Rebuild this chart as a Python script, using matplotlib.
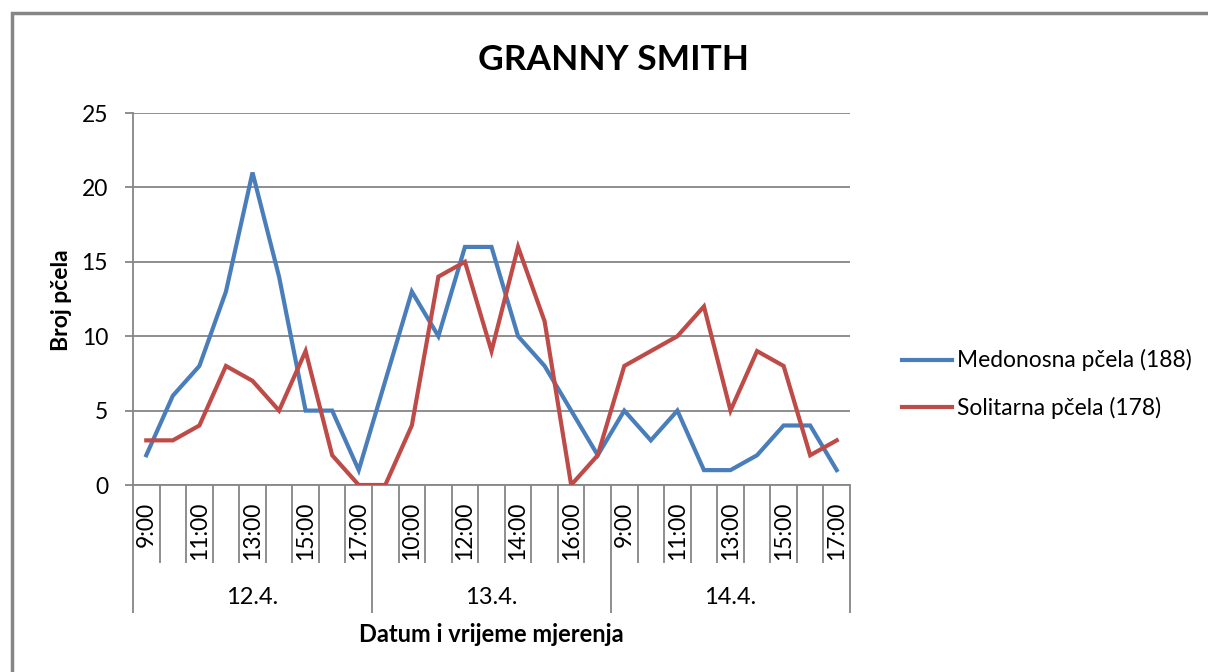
import matplotlib

matplotlib.use("Agg")
import matplotlib.pyplot as plt
import matplotlib.transforms as mtransforms
from matplotlib.patches import Rectangle

plt.rcParams["font.family"] = ["Lato", "DejaVu Sans"]

# --------------------------------------------------------------------------- #
# Podaci
# --------------------------------------------------------------------------- #
datumi = ["12.4.", "13.4.", "14.4."]
sati = ["9:00", "10:00", "11:00", "12:00", "13:00", "14:00", "15:00", "16:00", "17:00"]

medonosna = [2, 6, 8, 13, 21, 14, 5, 5, 1,
             7, 13, 10, 16, 16, 10, 8, 5, 2,
             5, 3, 5, 1, 1, 2, 4, 4, 1]
solitarna = [3, 3, 4, 8, 7, 5, 9, 2, 0,
             0, 4, 14, 15, 9, 16, 11, 0, 2,
             8, 9, 10, 12, 5, 9, 8, 2, 3]

naziv_med = "Medonosna pčela (188)"
naziv_sol = "Solitarna pčela (178)"

PLAVA = "#4A7EBB"
CRVENA = "#BE4B48"
SIVA = "#868686"

# --------------------------------------------------------------------------- #
W, H = 1208, 672
fig = plt.figure(figsize=(W / 100, H / 100), dpi=100)
ax = fig.add_axes([133 / W, 1 - 485 / H, (850 - 133) / W, (485 - 113) / H])

n = len(medonosna)
x = list(range(n))
ax.plot(x, medonosna, color=PLAVA, lw=3.0, solid_joinstyle="miter",
        label=naziv_med, zorder=3)
ax.plot(x, solitarna, color=CRVENA, lw=3.0, solid_joinstyle="miter",
        label=naziv_sol, zorder=3)

ax.set_xlim(-0.5, n - 0.5)
ax.set_ylim(0, 25)
ax.set_yticks(range(0, 26, 5))
ax.yaxis.grid(True, color=SIVA, lw=1.3)
ax.set_axisbelow(True)
for s in ["top", "right"]:
    ax.spines[s].set_visible(False)
for s in ["left", "bottom"]:
    ax.spines[s].set_color(SIVA)
    ax.spines[s].set_linewidth(1.3)

ax.tick_params(axis="y", length=6, color=SIVA, width=1.3, labelsize=16.5, pad=12)

# x os: granice kategorija (kratke) i granice datuma (duge)
po_danu = len(sati)
granice = [i - 0.5 for i in range(n + 1)]
granice_dana = [i * po_danu - 0.5 for i in range(len(datumi) + 1)]
ax.set_xticks(granice_dana)
ax.set_xticks(granice, minor=True)
ax.set_xticklabels([])
ax.tick_params(axis="x", which="major", length=92, width=1.3, color=SIVA)
ax.tick_params(axis="x", which="minor", length=56, width=1.3, color=SIVA)

trans = mtransforms.blended_transform_factory(ax.transData, ax.transAxes)
off = mtransforms.ScaledTranslation(0, -17 / 100, fig.dpi_scale_trans)
for i in range(0, n, 2):
    ax.text(i, 0, sati[i % po_danu], transform=trans + off, rotation=90,
            ha="center", va="top", fontsize=16.5)

off2 = mtransforms.ScaledTranslation(0, -112 / 100, fig.dpi_scale_trans)
for d, dat in enumerate(datumi):
    ax.text(d * po_danu + (po_danu - 1) / 2, 0, dat, transform=trans + off2,
            ha="center", va="center", fontsize=17)

fig.text(491 / W, 1 - 634 / H, "Datum i vrijeme mjerenja", ha="center",
         va="center", fontsize=17, fontweight="bold")
fig.text(62 / W, 1 - 300 / H, "Broj pčela", ha="center", va="center",
         rotation=90, fontsize=16.5, fontweight="bold")
fig.text(614 / W, 1 - 60 / H, "GRANNY SMITH", ha="center", va="center",
         fontsize=25.5, fontweight="bold")

fig.legend(loc="center left", bbox_to_anchor=(881 / W, 1 - 384 / H),
           frameon=False, fontsize=16.4, handlelength=2.2, handletextpad=0.25,
           labelspacing=1.1)

# okvir grafikona (odrezan desno i dolje)
fig.patches.append(Rectangle((12 / W, -0.1), 1.2, 1 - 13 / H + 0.1,
                             transform=fig.transFigure, fill=False,
                             edgecolor=SIVA, lw=2.5))

fig.savefig("out.png", dpi=100)
